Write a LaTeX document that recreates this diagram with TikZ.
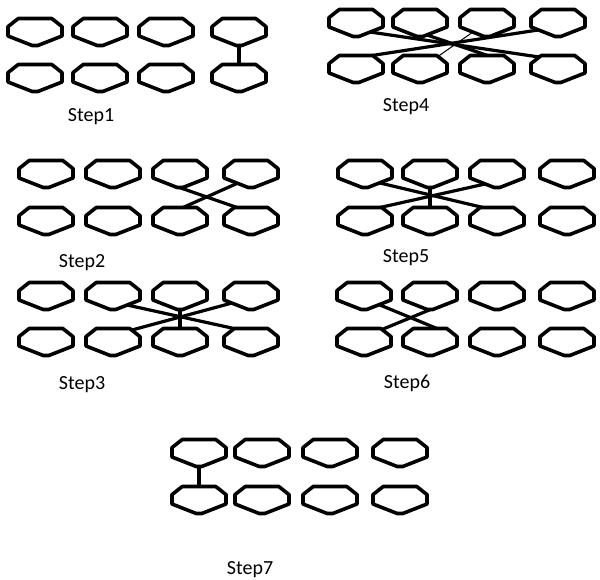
\documentclass[tikz,border=0pt]{standalone}
\usepackage{fontspec}
\setmainfont{Carlito}
\usetikzlibrary{calc}
\tikzset{
 ringbox/.style={rectangle, minimum width=56pt, minimum height=27pt, inner sep=0pt},
 ringline/.style={line width=3.6pt, line join=round},
 link/.style={line width=3.2pt},
 thinlink/.style={line width=1pt},
 steplabel/.style={font=\fontsize{20}{24}\selectfont, inner sep=0pt}
}
\newcommand\ringat[2]{%
 \node[ringbox] (#1) at (#2) {};
 \draw[ringline] ($(#1.center)+(-16.8,-13.5)$) -- ($(#1.center)+(16.8,-13.5)$) -- ($(#1.center)+(27,-5.4)$) -- ($(#1.center)+(27,4)$) -- ($(#1.center)+(2.8,13.5)$) -- ($(#1.center)+(-2.8,13.5)$) -- ($(#1.center)+(-27,4)$) -- ($(#1.center)+(-27,-5.4)$) -- cycle;}
\newcommand\panelrings[7]{%
 \ringat{#1t1}{#2,#6}\ringat{#1t2}{#3,#6}\ringat{#1t3}{#4,#6}\ringat{#1t4}{#5,#6}%
 \ringat{#1b1}{#2,#7}\ringat{#1b2}{#3,#7}\ringat{#1b3}{#4,#7}\ringat{#1b4}{#5,#7}}
\begin{document}
\begin{tikzpicture}[x=1pt,y=-1pt]
\useasboundingbox (0,0) rectangle (600,579);
\panelrings{s1}{35}{100}{166}{239}{32}{78}
\panelrings{s4}{356}{420}{487}{558}{23}{69}
\panelrings{s2}{46}{113}{180}{251}{174}{221}
\panelrings{s5}{365}{430}{497}{567}{174}{221}
\panelrings{s3}{46}{113}{180}{251}{296}{342}
\panelrings{s6}{364}{430}{497}{567}{296}{342}
\panelrings{s7}{199}{262}{330}{400}{453}{500}
% Step1
\draw[link] (s1t4.south) -- (s1b4.north);
% Step4
\draw[link] ($(s4t1.center)+(14,9)$) -- ($(s4b4.center)+(-19,-12)$);
\draw[link] ($(s4t2.center)+(7,12)$) -- (s4b3.north);
\draw[link] ($(s4t4.center)+(-20,7)$) -- ($(s4b1.center)+(16,-13.5)$);
\draw[thinlink] ($(s4t3.center)+(-14,9)$) -- ($(s4b2.center)+(18,-12.6)$);
% Step2
\draw[link] (s2t3.south) -- ($(s2b4.center)+(-14,-13.5)$);
\draw[link] ($(s2t4.center)+(-13,9)$) -- ($(s2b3.center)+(3,-13.5)$);
% Step5
\draw[link] ($(s5t1.center)+(15,9)$) -- ($(s5b3.center)+(-14,-13.5)$);
\draw[link] ($(s5t3.center)+(-12,10)$) -- ($(s5b1.center)+(15,-13.5)$);
\draw[link] (s5t2.south) -- (s5b2.north);
% Step3
\draw[link] ($(s3t2.center)+(14,9)$) -- ($(s3b4.center)+(-17,-13.5)$);
\draw[link] ($(s3t4.center)+(-19,7)$) -- ($(s3b2.center)+(19,-12)$);
\draw[link] (s3t3.south) -- (s3b3.north);
% Step6
\draw[link] ($(s6t1.center)+(16,9)$) -- ($(s6b2.center)+(7,-13.5)$);
\draw[link] (s6t2.south) -- ($(s6b1.center)+(18,-12.5)$);
% Step7
\draw[link] (s7t1.south) -- (s7b1.north);
% labels
\node[steplabel] (l1) at (91,117) {Step1};
\node[steplabel] (l4) at (406,107) {Step4};
\node[steplabel] (l2) at (82,263) {Step2};
\node[steplabel] (l5) at (406,258) {Step5};
\node[steplabel] (l3) at (82,385) {Step3};
\node[steplabel] (l6) at (407,383) {Step6};
\node[steplabel] (l7) at (250,570) {Step7};
\end{tikzpicture}
\end{document}
